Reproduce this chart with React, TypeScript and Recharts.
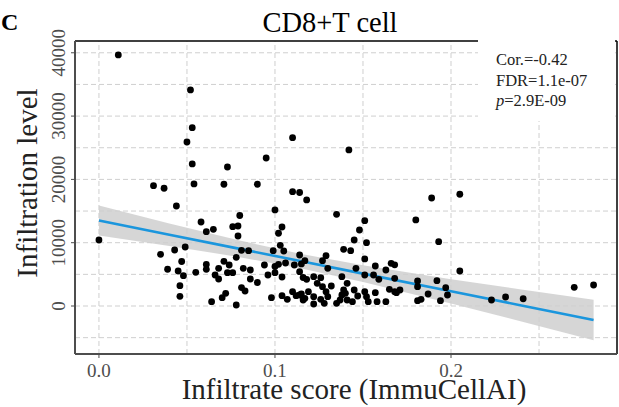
import { ComposedChart, XAxis, YAxis, Scatter, Area, Line, ReferenceLine } from "recharts";

// infiltrate score (ImmuCellAI) vs infiltration level, one pair per sample
const samples: [number, number][] = [
  [0.011, 39660], [0.052, 34130], [0.053, 28170], [0.05, 25910], [0.053, 22440],
  [0.073, 21960], [0.095, 23380], [0.11, 26590], [0.142, 24650], [0.031, 19010],
  [0.037, 18600], [0.054, 19280], [0.071, 19230], [0.09, 19230], [0.11, 18060],
  [0.114, 17930], [0.189, 17060], [0.205, 17650], [0.118, 16750], [0.044, 15800],
  [0.1, 15170], [0.135, 14490], [0.18, 13590], [0.058, 13270], [0.061, 11740],
  [0.065, 12120], [0.076, 12530], [0.079, 12640], [0.08, 14300], [0.079, 11060],
  [0.102, 11490], [0.104, 12480], [0.151, 13480], [0.148, 12010], [0.152, 10000],
  [0.145, 10430], [0.193, 10160], [0.0, 10430], [0.103, 9590], [0.049, 9320],
  [0.043, 8850], [0.081, 8800], [0.085, 8740], [0.099, 8740], [0.105, 8690],
  [0.139, 8960], [0.143, 8740], [0.035, 8170], [0.078, 7690], [0.114, 8060],
  [0.129, 7950], [0.127, 7160], [0.117, 7160], [0.151, 7430], [0.047, 7030],
  [0.071, 7060], [0.106, 6790], [0.115, 6640], [0.168, 6500], [0.166, 6750],
  [0.061, 6560], [0.074, 6480], [0.094, 6480], [0.1, 6240], [0.111, 6480],
  [0.157, 6320], [0.061, 5800], [0.039, 5810], [0.068, 5960], [0.082, 5960],
  [0.086, 5690], [0.13, 5960], [0.146, 5960], [0.163, 5690], [0.045, 5530],
  [0.055, 5320], [0.073, 5260], [0.076, 5260], [0.1, 5260], [0.114, 5420],
  [0.205, 5530], [0.048, 4790], [0.066, 4900], [0.096, 4900], [0.104, 4580],
  [0.116, 4500], [0.122, 4630], [0.138, 4630], [0.151, 4900], [0.156, 4900],
  [0.068, 4270], [0.086, 4270], [0.118, 4220], [0.126, 4470], [0.159, 4220],
  [0.168, 4380], [0.09, 3710], [0.124, 3590], [0.141, 3590], [0.181, 3950],
  [0.192, 4000], [0.046, 3210], [0.081, 2920], [0.127, 3050], [0.132, 3160],
  [0.181, 3050], [0.197, 2890], [0.27, 2950], [0.281, 3320], [0.083, 2370],
  [0.11, 2260], [0.119, 2260], [0.129, 2260], [0.139, 2530], [0.145, 2530],
  [0.151, 2260], [0.157, 2100], [0.165, 2640], [0.168, 2260], [0.171, 2530],
  [0.072, 2010], [0.115, 1900], [0.14, 2010], [0.187, 1900], [0.046, 1530],
  [0.07, 1310], [0.098, 1310], [0.104, 1630], [0.114, 1740], [0.122, 1470],
  [0.13, 1470], [0.138, 1740], [0.147, 1580], [0.152, 1470], [0.198, 1740],
  [0.107, 1060], [0.116, 950], [0.117, 1220], [0.126, 1060], [0.137, 950],
  [0.141, 950], [0.183, 1060], [0.181, 840], [0.194, 840], [0.223, 950],
  [0.231, 1420], [0.241, 1150], [0.064, 680], [0.122, 320], [0.128, 430],
  [0.135, 430], [0.144, 680], [0.153, 680], [0.158, 680], [0.163, 680],
  [0.078, 160], [0.169, 2100], [0.102, 6590], [0.112, 1630],
];

// fitted line and its confidence band, read at a few scores
const fitX = [0, 0.04, 0.08, 0.115, 0.15, 0.2, 0.24, 0.281];
const fitY = [13500, 11264, 9028, 7071, 5115, 2320, 84, -2208];
const bandLow = [11130, 9490, 7720, 5920, 3800, 410, -2440, -5410];
const bandHigh = [15870, 13040, 10340, 8220, 6430, 4230, 2610, 1000];

const xTicks = [0, 0.1, 0.2];
const xTickLabels = ["0.0", "0.1", "0.2"];
const yTicks = [0, 10000, 20000, 30000, 40000];
const xGrid = [0, 0.05, 0.1, 0.15, 0.2, 0.25];
const yGrid = [-5000, 0, 5000, 10000, 15000, 20000, 25000, 30000, 35000, 40000];

const xDomain: [number, number] = [-0.0136, 0.2943];
const yDomain: [number, number] = [-7580, 41860];

const serif = "'Liberation Serif', 'Times New Roman', serif";
const tickColor = "#4d4d4d";

export default function App() {
  const rows = fitX.map((x, i) => ({ x, fit: fitY[i], band: [bandLow[i], bandHigh[i]] }));
  const dots = samples.map(([x, y]) => ({ x, y }));

  return (
    <div style={{ position: "absolute", left: 0, top: 0, width: 619, height: 407, background: "#fff" }}>
      <ComposedChart
        width={619}
        height={407}
        data={rows}
        margin={{ top: 41, right: 2, bottom: 0, left: 0 }}
      >
        <XAxis
          dataKey="x"
          type="number"
          domain={xDomain}
          ticks={xTicks}
          height={53}
          tickSize={4}
          axisLine={{ stroke: tickColor, strokeWidth: 2 }}
          tickLine={{ stroke: tickColor }}
          tick={(p: any) => (
            <text x={p.x} y={377} textAnchor="middle" fontSize={19} fontFamily={serif} fill={tickColor}>
              {xTickLabels[xTicks.indexOf(p.payload.value)]}
            </text>
          )}
        />
        <YAxis
          type="number"
          domain={yDomain}
          ticks={yTicks}
          width={75}
          tickSize={4}
          axisLine={{ stroke: tickColor, strokeWidth: 2 }}
          tickLine={{ stroke: tickColor }}
          tick={(p: any) => (
            <text
              x={65}
              y={p.y}
              transform={`rotate(-90 65 ${p.y})`}
              textAnchor="middle"
              fontSize={19}
              fontFamily={serif}
              fill={tickColor}
            >
              {p.payload.value}
            </text>
          )}
        />
        {xGrid.map((v) => (
          <ReferenceLine key={`gx${v}`} x={v} stroke="#cfcfcf" strokeDasharray="5 3" />
        ))}
        {yGrid.map((v) => (
          <ReferenceLine key={`gy${v}`} y={v} stroke="#cfcfcf" strokeDasharray="5 3" />
        ))}
        <ReferenceLine y={yDomain[1]} stroke="#000" strokeWidth={1.5} />
        <ReferenceLine x={xDomain[1]} stroke="#000" strokeWidth={1.5} />
        <Scatter
          data={dots}
          dataKey="y"
          isAnimationActive={false}
          shape={(p: any) => <circle cx={p.cx} cy={p.cy} r={3.4} fill="#000" />}
        />
        <Area
          dataKey="band"
          type="linear"
          stroke="none"
          fill="#999999"
          fillOpacity={0.4}
          isAnimationActive={false}
        />
        <Line
          dataKey="fit"
          type="linear"
          stroke="#1b96dd"
          strokeWidth={2.6}
          dot={false}
          isAnimationActive={false}
        />
      </ComposedChart>

      <svg
        width={619}
        height={407}
        style={{ position: "absolute", left: 0, top: 0, pointerEvents: "none" }}
      >
        <rect x={478} y={0} width={137} height={121} fill="#fff" />
        <text x={1} y={30} fontSize={24} fontWeight="bold" fontFamily={serif}>C</text>
        <text x={330} y={32} fontSize={28.5} textAnchor="middle" fontFamily={serif}>CD8+T cell</text>
        <g fontSize={16.5} fontFamily={serif} fill="#222">
          <text x={496} y={65}>Cor.=-0.42</text>
          <text x={496} y={86}>FDR=1.1e-07</text>
          <text x={496} y={106}>
            <tspan fontStyle="italic">p</tspan>=2.9E-09
          </text>
        </g>
        <text x={354} y={399} fontSize={29} textAnchor="middle" fontFamily={serif} fill="#222">
          Infiltrate score (ImmuCellAI)
        </text>
        <text
          x={37}
          y={183}
          fontSize={29}
          textAnchor="middle"
          fontFamily={serif}
          fill="#222"
          transform="rotate(-90 37 183)"
        >
          Infiltration level
        </text>
      </svg>
    </div>
  );
}
